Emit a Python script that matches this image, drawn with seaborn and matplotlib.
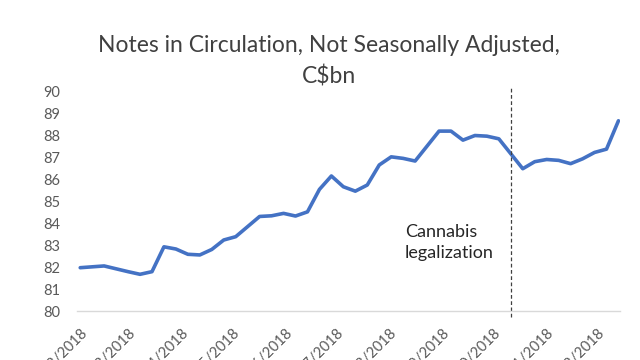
import numpy as np
import pandas as pd
import seaborn as sns
import matplotlib
matplotlib.use("Agg")
import matplotlib.pyplot as plt
import matplotlib.dates as mdates

# weekly notes in circulation, C$bn
start_date = "2018-02-07"
notes_bn = [81.97, 82.01, 82.05, 81.92, 81.79, 81.67, 81.79, 82.92, 82.82, 82.58,
            82.55, 82.80, 83.23, 83.38, 83.84, 84.30, 84.33, 84.44, 84.32, 84.51,
            85.53, 86.14, 85.65, 85.45, 85.73, 86.64, 87.01, 86.94, 86.82, 87.50,
            88.18, 88.18, 87.77, 87.98, 87.95, 87.83, 87.15, 86.47, 86.79, 86.89,
            86.85, 86.70, 86.92, 87.21, 87.36, 88.65]
legalization_date = "2018-10-17"
y_ticks = list(range(80, 91))

df = pd.DataFrame({
    "date": pd.date_range(start_date, periods=len(notes_bn), freq="7D"),
    "notes": notes_bn,
})

sns.set_style("white")
plt.rcParams["font.family"] = ["Lato", "DejaVu Sans"]

fig = plt.figure(figsize=(6.4, 3.6), dpi=100)
ax = fig.add_axes([0.12, 0.136, 0.849, 0.611])

sns.lineplot(data=df, x="date", y="notes", ax=ax, color="#4472C4", linewidth=2.6)

# legalization marker
legal = pd.Timestamp(legalization_date)
ax.plot([legal, legal], [79.72, 90.14], color="#404040", linestyle=(0, (3, 2)),
        linewidth=0.9, clip_on=False)
ax.text(pd.Timestamp("2018-08-16"), 83.95, "Cannabis\nlegalization", ha="left", va="top",
        fontsize=13, color="#262626", linespacing=1.35)

ax.set_ylim(80, 90)
ax.set_yticks(y_ticks)
ax.set_xlim(pd.Timestamp("2018-02-05"), pd.Timestamp("2018-12-20"))
ax.xaxis.set_major_locator(mdates.MonthLocator(bymonthday=7))
ax.xaxis.set_major_formatter(mdates.DateFormatter("%d/%m/%Y"))
ax.set_xlabel("")
ax.set_ylabel("")
ax.tick_params(axis="both", length=0, labelsize=10.5, labelcolor="#595959")
ax.tick_params(axis="y", pad=12)
ax.tick_params(axis="x", pad=11)
for lab in ax.get_xticklabels():
    lab.set_rotation(45)
    lab.set_ha("right")
    lab.set_rotation_mode("anchor")

for side in ["top", "right", "left"]:
    ax.spines[side].set_visible(False)
ax.spines["bottom"].set_color("#D9D9D9")
ax.spines["bottom"].set_linewidth(1.0)

fig.text(0.514, 1 - 52 / 360, "Notes in Circulation, Not Seasonally Adjusted,",
         ha="center", va="baseline", fontsize=16.5, color="#404040")
fig.text(0.514, 1 - 83 / 360, "C$bn", ha="center", va="baseline", fontsize=16.5, color="#404040")

fig.savefig("out.png", dpi=100)
